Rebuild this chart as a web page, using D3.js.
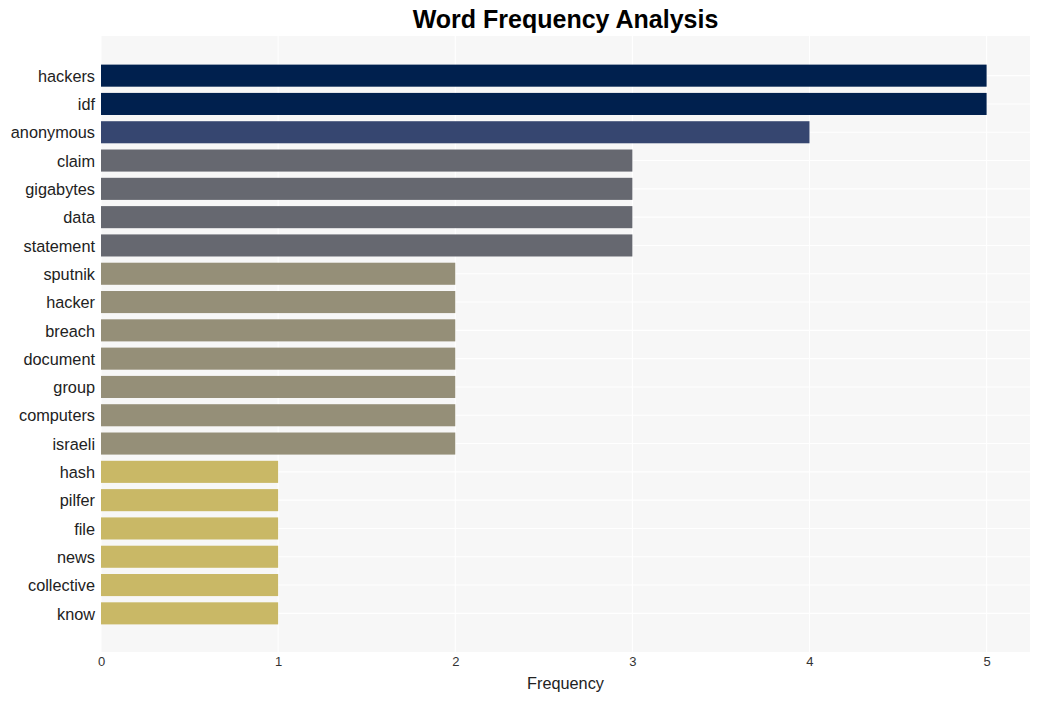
<!DOCTYPE html>
<html><head><meta charset="utf-8">
<script src="https://cdn.jsdelivr.net/npm/d3@7"></script>
<style>body{margin:0;background:#fff;} svg{display:block;font-family:"Liberation Sans",Arial,sans-serif;}</style>
</head><body>
<svg id="c" width="1040" height="701"></svg>
<script>
const words = ["hackers","idf","anonymous","claim","gigabytes","data","statement","sputnik","hacker","breach","document","group","computers","israeli","hash","pilfer","file","news","collective","know"];
const freqs = [5,5,4,3,3,3,3,2,2,2,2,2,2,2,1,1,1,1,1,1];
const xTicks = [0,1,2,3,4,5];
const colorValues = [1,2,3,4,5];
const colorRange = ["#c9b866","#958f78","#666870","#364670","#00204e"];

const svg = d3.select("#c");
const pL = 101, pR = 1030, pT = 36, pB = 652;
const x = d3.scaleLinear().domain([0, 5.245]).range([pL, pR]);
const y = d3.scaleBand().domain(words).range([61.5, 627.5]).paddingInner(0.22).paddingOuter(0.11);
const color = d3.scaleOrdinal().domain(colorValues).range(colorRange);

svg.append("rect").attr("x", pL).attr("y", pT).attr("width", pR-pL).attr("height", pB-pT).attr("fill", "#f7f7f7");
svg.append("g").selectAll("line").data(xTicks).join("line")
  .attr("x1", d=>x(d)).attr("x2", d=>x(d)).attr("y1", pT).attr("y2", pB)
  .attr("stroke", "#ffffff").attr("stroke-width", 1.1);
svg.append("g").selectAll("line").data(words).join("line")
  .attr("x1", pL).attr("x2", pR).attr("y1", d=>y(d)+y.bandwidth()/2).attr("y2", d=>y(d)+y.bandwidth()/2)
  .attr("stroke", "#ffffff").attr("stroke-width", 1.1);

svg.append("g").selectAll("rect").data(words).join("rect")
  .attr("x", x(0)).attr("y", d=>y(d))
  .attr("width", (d,i)=>x(freqs[i])-x(0)).attr("height", y.bandwidth())
  .attr("fill", (d,i)=>color(freqs[i]));

const yAxis = svg.append("g").attr("transform", `translate(${pL},0)`)
  .call(d3.axisLeft(y).tickSize(0).tickPadding(6));
yAxis.select(".domain").remove();
yAxis.selectAll("text").attr("font-size", 16.3).attr("fill", "#222").attr("dy", "0.38em").attr("font-family", "Liberation Sans, Arial, sans-serif");

const xAxis = svg.append("g").attr("transform", `translate(0,${pB})`)
  .call(d3.axisBottom(x).tickValues(xTicks).tickSize(0).tickPadding(5).tickFormat(d3.format("d")));
xAxis.select(".domain").remove();
xAxis.selectAll("text").attr("font-size", 13).attr("fill", "#333").attr("font-family", "Liberation Sans, Arial, sans-serif");

svg.append("text").attr("x", (pL+pR)/2).attr("y", 689).attr("text-anchor", "middle")
  .attr("font-size", 16.3).attr("fill", "#222").text("Frequency");
svg.append("text").attr("x", (pL+pR)/2).attr("y", 28).attr("text-anchor", "middle")
  .attr("font-size", 25).attr("font-weight", "bold").attr("fill", "#000").text("Word Frequency Analysis");
</script>
</body></html>
